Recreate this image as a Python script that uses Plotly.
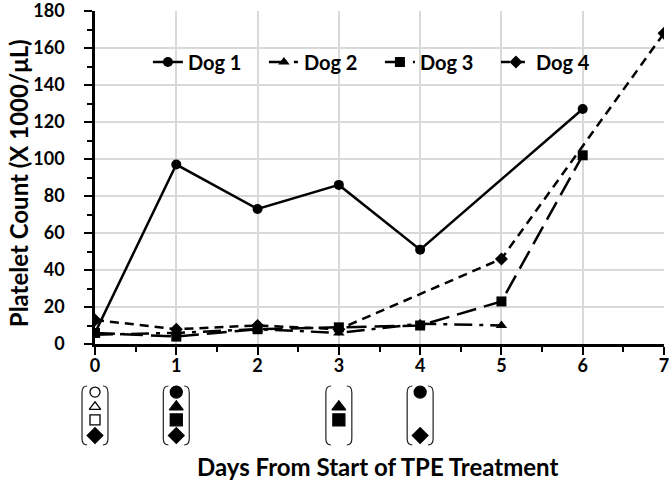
import plotly.graph_objects as go

days = [0, 1, 2, 3, 4, 5, 6, 7]
dog1 = [6, 97, 73, 86, 51, None, 127, None]
dog2 = [5, 6, 8, 6, 11, 10, None, None]
dog3 = [6, 4, 8, 9, 10, 23, 102, None]
dog4 = [13, 8, 10, 8, None, 46, None, 168]

# treatment markers below the axis (day, row value, symbol)
tr_days = [0, 0, 0, 0, 1, 1, 1, 1, 3, 3, 4, 4]
tr_rows = [-26, -34, -41, -49.5, -26, -34, -41, -49.5, -34, -41, -26, -49.5]
tr_symbols = ["circle-open", "triangle-up-open", "square-open", "diamond",
              "circle", "triangle-up", "square", "diamond",
              "triangle-up", "square", "circle", "diamond"]
bracket_days = [0, 1, 3, 4]

FONT = "Lato"
fig = go.Figure()

series = [
    ("Dog 1", dog1, "solid", "circle"),
    ("Dog 2", dog2, "18px,7px,4px,7px", "triangle-up"),
    ("Dog 3", dog3, "20px,8px", "square"),
    ("Dog 4", dog4, "9px,6px", "diamond"),
]
for name, vals, dash, sym in series:
    fig.add_trace(go.Scatter(
        x=days, y=vals, name=name, mode="lines+markers", connectgaps=True,
        line=dict(color="black", width=2.5, dash=dash),
        marker=dict(symbol=sym, size=10, color="black"),
    ))

sizes = [10 if s.endswith("open") else 12 for s in tr_symbols]
fig.add_trace(go.Scatter(
    x=tr_days, y=tr_rows, mode="markers", showlegend=False, cliponaxis=False,
    xaxis="x2", yaxis="y2",
    marker=dict(symbol=tr_symbols, size=sizes, color="black", opacity=1,
                line=dict(color="black", width=1.3)),
    hoverinfo="skip",
))

# paper area spans screen px 11..472; main plot bottom at px 344
PAPER_TOP, PAPER_BOT, AXIS_BOT = 11, 472, 344
H = PAPER_BOT - PAPER_TOP
split = (PAPER_BOT - AXIS_BOT) / H
px_per_unit = (AXIS_BOT - PAPER_TOP) / 180.0
low = -(PAPER_BOT - AXIS_BOT) / px_per_unit


def py(px):
    return (PAPER_BOT - px) / H


tickfont = dict(family=FONT, size=18, color="black", weight="bold")
fig.update_layout(
    width=672, height=482,
    margin=dict(l=95, r=8, t=PAPER_TOP, b=482 - PAPER_BOT),
    paper_bgcolor="white", plot_bgcolor="white",
    showlegend=True,
    legend=dict(orientation="h", x=0.093, xanchor="left", y=py(62), yanchor="middle",
                font=dict(family=FONT, size=20, color="black", weight="bold"),
                bgcolor="rgba(0,0,0,0)", entrywidth=71, itemwidth=30,
                tracegroupgap=0),
    xaxis=dict(range=[0, 7], tick0=0, dtick=1, showgrid=True, gridcolor="#d9d9d9",
               gridwidth=1.5, zeroline=False, showline=True, linecolor="black",
               linewidth=2.5, ticks="outside", ticklen=8, tickwidth=2, tickcolor="black",
               tickfont=tickfont, ticklabelstandoff=-4, anchor="y", automargin=False,
               ticklabeloverflow="allow",
               minor=dict(dtick=0.5, ticks="outside", ticklen=5, tickwidth=2,
                          tickcolor="black", showgrid=False)),
    yaxis=dict(range=[0, 180], domain=[split, 1], tick0=0, dtick=20, showgrid=True,
               gridcolor="#d9d9d9", ticklabeloverflow="allow", automargin=False,
               gridwidth=1.5, zeroline=False, showline=True, linecolor="black",
               linewidth=2.5, ticks="outside", ticklen=8, tickwidth=2, tickcolor="black",
               tickfont=tickfont, ticklabelstandoff=16,
               minor=dict(dtick=10, ticks="outside", ticklen=5, tickwidth=2,
                          tickcolor="black", showgrid=False)),
    xaxis2=dict(range=[0, 7], domain=[0, 1], anchor="y2", visible=False, automargin=False),
    yaxis2=dict(range=[low, 0], domain=[0, split], anchor="x2", visible=False,
                automargin=False),
)

# brackets around treatment markers
top, bot = py(386), py(445)
hw, c, e = 0.0228, 0.009, 0.014
for d in bracket_days:
    xc = d / 7
    xl, xr = xc - hw, xc + hw
    left = (f"M {xl + c},{top} Q {xl},{top} {xl},{top - e} L {xl},{bot + e} "
            f"Q {xl},{bot} {xl + c},{bot}")
    right = (f"M {xr - c},{top} Q {xr},{top} {xr},{top - e} L {xr},{bot + e} "
             f"Q {xr},{bot} {xr - c},{bot}")
    for p in (left, right):
        fig.add_shape(type="path", path=p, xref="paper", yref="paper",
                      line=dict(color="#222", width=1.2))

fig.add_annotation(text="Days From Start of TPE Treatment", xref="paper", yref="paper",
                   x=0.497, y=py(466), xanchor="center", yanchor="middle", showarrow=False,
                   font=dict(family=FONT, size=24, color="black", weight="bold"))
fig.add_annotation(text="Platelet Count (X 1000/μL)", xref="paper", yref="paper",
                   x=-0.135, y=py(183), xanchor="center", yanchor="middle", showarrow=False,
                   textangle=-90,
                   font=dict(family=FONT, size=24, color="black", weight="bold"))

fig.write_html("out.html", config={"displayModeBar": False},
               post_script="document.body.style.margin='0';")
